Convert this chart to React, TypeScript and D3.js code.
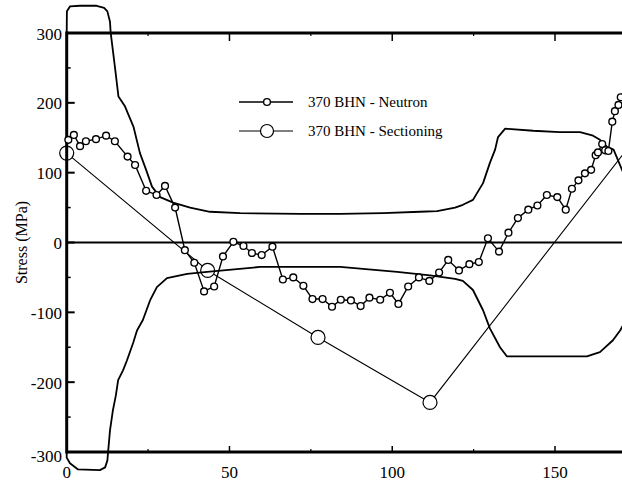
import React from "react";
import * as d3 from "d3";

const neutronX = [0.5, 2.2, 4.1, 5.9, 9.0, 12.1, 14.8, 18.7, 21.0, 24.4, 27.6, 30.2, 33.3, 36.3, 39.2, 42.2, 45.3, 48.0, 51.2, 54.3, 56.9, 59.9, 63.2, 66.4, 69.6, 72.7, 75.5, 78.6, 81.5, 84.2, 87.3, 90.3, 93.0, 96.3, 99.3, 101.9, 104.9, 108.2, 111.4, 114.4, 117.2, 120.5, 123.7, 126.6, 129.4, 132.8, 135.7, 138.6, 141.8, 144.6, 147.5, 150.7, 153.3, 155.2, 157.2, 159.2, 161.1, 162.5, 163.2, 164.5, 165.4, 166.4, 167.6, 168.4, 169.5, 170.2];
const neutronY = [147, 154, 138, 145, 148, 153, 145, 123, 111, 74, 68, 81, 50, -11, -29, -70, -63, -20, 1, -5, -15, -18, -6, -53, -50, -62, -81, -81, -92, -82, -83, -91, -79, -82, -72, -88, -63, -50, -55, -43, -25, -40, -31, -28, 6, -13, 14, 35, 47, 53, 68, 65, 47, 77, 89, 99, 104, 125, 129, 141, 132, 131, 173, 188, 197, 208];

const sectionX = [0, 43.3, 77.2, 111.6, 175];
const sectionY = [128, -40, -136, -229, 151];

const upperX = [0, 0.06, 1.0, 4.1, 9.2, 11.5, 12.5, 13.3, 13.5, 14.8, 15.9, 17.9, 20.5, 22.5, 24.4, 26.2, 28.7, 32.7, 37.9, 44.0, 53.3, 71.7, 84.0, 97.2, 108.5, 113.8, 119.3, 121.7, 124.8, 127.9, 130.0, 131.6, 132.5, 134.7, 143.3, 151.5, 157.7, 161.7, 163.8, 166.0, 168.0, 170.6, 172.5];
const upperY = [300, 331, 338, 339, 339, 336, 331, 316, 301, 252, 209, 195, 166, 128, 104, 80, 65, 57, 50, 44, 42, 41, 41, 42, 44, 45, 50, 54, 61, 85, 114, 133, 151, 163, 160, 158, 158, 153, 147, 137, 133, 104, 80];

const lowerX = [0, 0, 1.0, 3.5, 10.2, 11.8, 12.5, 12.7, 13.3, 14.2, 15.1, 15.8, 17.3, 18.5, 20.4, 21.6, 23.4, 25.6, 27.7, 30.8, 37.0, 43.1, 59.4, 84.0, 101.5, 111.6, 119.3, 121.7, 124.8, 127.9, 130.0, 133.1, 135.2, 159.8, 163.8, 167.8, 170.0, 172.5];
const lowerY = [-300, -308, -316, -325, -326, -322, -312, -301, -269, -240, -219, -197, -183, -169, -144, -126, -111, -83, -64, -51, -45, -42, -35, -35, -42, -47, -52, -55, -68, -97, -123, -150, -163, -163, -157, -140, -126, -105];

const yTicks = [300, 200, 100, 0, -100, -200, -300];
const yMinor = [250, 150, 50, -50, -150, -250];
const xTicks = [0, 50, 100, 150];
const xMinor = [25, 75, 125];
const legendLabels = ["370 BHN - Neutron", "370 BHN - Sectioning"];

const W = 622;
const H = 481;
const FONT = "'Liberation Serif', 'Times New Roman', serif";

export default function App() {
  const x = d3.scaleLinear().domain([0, 150]).range([66.7, 555]);
  const y = d3.scaleLinear().domain([-300, 300]).range([452, 33]);
  const xR = x.invert(W + 2);

  const line = d3
    .line<[number, number]>()
    .x((d) => x(d[0]))
    .y((d) => y(d[1]));

  const upper = upperX.map((v, i) => [v, upperY[i]] as [number, number]);
  const lower = lowerX.map((v, i) => [v, lowerY[i]] as [number, number]);
  const neutron = neutronX.map((v, i) => [v, neutronY[i]] as [number, number]);
  const section = sectionX.map((v, i) => [v, sectionY[i]] as [number, number]);

  const lx0 = 239;
  const lx1 = 293;
  const ly = [102, 131];

  return (
    <svg
      width={W}
      height={H}
      style={{ position: "absolute", left: 0, top: 0, background: "#fff" }}
      fontFamily={FONT}
    >
      <rect x={0} y={0} width={W} height={H} fill="#fff" />
      {/* sectioning */}
      <path d={line(section) || ""} fill="none" stroke="#000" strokeWidth={1.1} />
      {section.map((d, i) => (
        <circle key={"s" + i} cx={x(d[0])} cy={y(d[1])} r={7} fill="#fff" stroke="#000" strokeWidth={1.2} />
      ))}
      {/* envelopes */}
      <path d={line(upper) || ""} fill="none" stroke="#000" strokeWidth={1.8} strokeLinejoin="round" />
      <path d={line(lower) || ""} fill="none" stroke="#000" strokeWidth={1.8} strokeLinejoin="round" />
      {/* zero line */}
      <line x1={x(0)} x2={W} y1={y(0)} y2={y(0)} stroke="#000" strokeWidth={2} />
      {/* axes */}
      <line x1={x(0)} x2={W} y1={y(300)} y2={y(300)} stroke="#000" strokeWidth={3} />
      <line x1={x(0)} x2={W} y1={y(-300)} y2={y(-300)} stroke="#000" strokeWidth={3} />
      <line x1={x(0)} x2={x(0)} y1={y(300) - 1.5} y2={y(-300) + 1.5} stroke="#000" strokeWidth={3} />
      {yTicks.map((t) => (
        <g key={"yt" + t}>
          <line x1={x(0)} x2={x(0) + 8} y1={y(t)} y2={y(t)} stroke="#000" strokeWidth={2} />
          <text
            x={62}
            y={y(t) + (t === -300 ? 4 : 1)}
            textAnchor="end"
            dominantBaseline="central"
            fontSize={17}
          >
            {t}
          </text>
        </g>
      ))}
      {yMinor.map((t) => (
        <line key={"ym" + t} x1={x(0)} x2={x(0) + 4} y1={y(t)} y2={y(t)} stroke="#000" strokeWidth={1.5} />
      ))}
      {xTicks.map((t) => (
        <g key={"xt" + t}>
          <line x1={x(t)} x2={x(t)} y1={y(-300)} y2={y(-300) - 6} stroke="#000" strokeWidth={1.5} />
          <line x1={x(t)} x2={x(t)} y1={y(300)} y2={y(300) + 8} stroke="#000" strokeWidth={1.5} />
          <text x={x(t)} y={478} textAnchor="middle" fontSize={17}>
            {t}
          </text>
        </g>
      ))}
      {xMinor.map((t) => (
        <g key={"xm" + t}>
          <line x1={x(t)} x2={x(t)} y1={y(-300)} y2={y(-300) - 3} stroke="#000" strokeWidth={1.2} />
          <line x1={x(t)} x2={x(t)} y1={y(300)} y2={y(300) + 3} stroke="#000" strokeWidth={1.2} />
        </g>
      ))}
      {/* neutron */}
      <path d={line(neutron) || ""} fill="none" stroke="#000" strokeWidth={1.4} />
      {neutron.map((d, i) => (
        <circle key={"n" + i} cx={x(d[0])} cy={y(d[1])} r={3.4} fill="#fff" stroke="#000" strokeWidth={1.4} />
      ))}
      {/* y label */}
      <text
        transform={`translate(21,${y(0)}) rotate(-90)`}
        textAnchor="middle"
        dominantBaseline="central"
        fontSize={16}
      >
        Stress (MPa)
      </text>
      {/* legend */}
      <line x1={lx0} x2={lx1} y1={ly[0]} y2={ly[0]} stroke="#000" strokeWidth={1.5} />
      <circle cx={(lx0 + lx1) / 2 + 1} cy={ly[0]} r={3.4} fill="#fff" stroke="#000" strokeWidth={1.4} />
      <text x={308} y={ly[0] + 5} fontSize={15}>
        {legendLabels[0]}
      </text>
      <line x1={lx0} x2={lx1} y1={ly[1]} y2={ly[1]} stroke="#000" strokeWidth={1.1} />
      <circle cx={(lx0 + lx1) / 2 + 1} cy={ly[1]} r={6.5} fill="#fff" stroke="#000" strokeWidth={1.2} />
      <text x={308} y={ly[1] + 5} fontSize={15}>
        {legendLabels[1]}
      </text>
      <desc>{String(xR)}</desc>
    </svg>
  );
}
